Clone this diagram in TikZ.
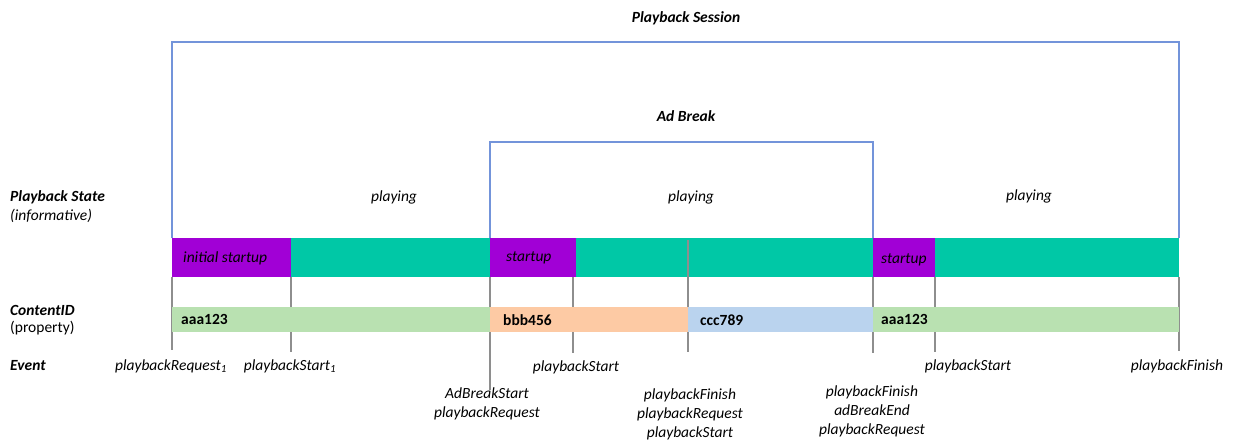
\documentclass[tikz,border=0pt]{standalone}
\usepackage{fontspec}
\setmainfont{Carlito}
\definecolor{brk}{HTML}{7394DA}
\definecolor{tick}{HTML}{8E8E8E}
\definecolor{teal}{HTML}{00C8A6}
\definecolor{purp}{HTML}{A100D6}
\definecolor{cgreen}{HTML}{B9E1B1}
\definecolor{corange}{HTML}{FDCAA4}
\definecolor{cblue}{HTML}{BAD3EE}
\begin{document}
\begin{tikzpicture}[x=1pt,y=-1pt,
  txt/.style={font=\fontsize{15.5}{18}\selectfont\itshape, inner sep=0pt},
  hdr/.style={font=\fontsize{15.5}{18}\selectfont\bfseries\itshape, inner sep=0pt},
  ev/.style={font=\fontsize{15.5}{19}\selectfont\itshape, inner sep=0pt, align=center, anchor=north},
  bartxt/.style={font=\fontsize{15.5}{18}\selectfont\itshape, inner sep=0pt, anchor=west},
  idtxt/.style={font=\fontsize{15.5}{18}\selectfont\bfseries, inner sep=0pt, anchor=west},
  bracket/.style={draw=brk, line width=1.3pt},
  tickline/.style={draw=tick, line width=1.1pt}]
\useasboundingbox (0,0) rectangle (1235,445);

% ticks (behind bars)
\coordinate (t1a) at (172,277); \coordinate (t1b) at (172,350);
\coordinate (t2a) at (291,277); \coordinate (t2b) at (291,352);
\coordinate (t3a) at (490,238); \coordinate (t3b) at (490,390);
\coordinate (t4a) at (573,277); \coordinate (t4b) at (573,353);
\coordinate (t6a) at (873,277); \coordinate (t6b) at (873,353);
\coordinate (t7a) at (935,277); \coordinate (t7b) at (935,352);
\coordinate (t8a) at (1179,277); \coordinate (t8b) at (1179,351);
\foreach \i in {1,2,3,4,6,7,8} \draw[tickline] (t\i a) -- (t\i b);

% playback state bar
\fill[teal] (172,238) rectangle (1179,277);
\fill[purp] (172,238) rectangle (291,277);
\fill[purp] (490,238) rectangle (576,277);
\fill[purp] (873,238) rectangle (935,277);
\node[bartxt] (s1) at (183,258) {initial startup};
\node[bartxt] (s2) at (506,258) {startup};
\node[bartxt] (s3) at (881,260) {startup};

% contentID bar
\fill[cgreen] (172,307) rectangle (490,332);
\fill[corange] (490,307) rectangle (688,332);
\fill[cblue] (688,307) rectangle (873,332);
\fill[cgreen] (873,307) rectangle (1179,332);
\node[idtxt] (c1) at (181,319) {aaa123};
\node[idtxt] (c2) at (503,320) {bbb456};
\node[idtxt] (c3) at (700,320) {ccc789};
\node[idtxt] (c4) at (881,319) {aaa123};

% tick over teal and bars at 688
\coordinate (t5a) at (688,240); \coordinate (t5b) at (688,352);
\draw[tickline] (t5a) -- (688,307);
\draw[tickline] (688,332) -- (t5b);

% brackets
\coordinate (ps1) at (172,238); \coordinate (ps2) at (172,42);
\coordinate (ps3) at (1179,42); \coordinate (ps4) at (1179,238);
\draw[bracket] (ps1) -- (ps2) -- (ps3) -- (ps4);
\coordinate (ab1) at (490,238); \coordinate (ab2) at (490,142);
\coordinate (ab3) at (873,142); \coordinate (ab4) at (873,238);
\draw[bracket] (ab1) -- (ab2) -- (ab3) -- (ab4);
\node[hdr] (ps) at (686,18) {Playback Session};
\node[hdr] (ab) at (686,116) {Ad Break};

% playing
\node[txt] (p1) at (394,197) {playing};
\node[txt] (p2) at (691,197) {playing};
\node[txt] (p3) at (1029,196) {playing};

% left labels
\node[hdr, anchor=west] (lps) at (10,197) {Playback State};
\node[txt, anchor=west] (lin) at (10,216) {(informative)};
\node[hdr, anchor=west] (lci) at (10,310) {ContentID};
\node[txt, anchor=west, font=\fontsize{15.5}{18}\selectfont\upshape] (lpr) at (10,328) {(property)};
\node[hdr, anchor=west] (lev) at (10,366) {Event};

% events
\node[txt] (e1) at (171,366) {playbackRequest\textsubscript{1}};
\node[txt] (e2) at (290,366) {playbackStart\textsubscript{1}};
\node[txt] (e3) at (576,367) {playbackStart};
\node[txt] (e4) at (968,366) {playbackStart};
\node[txt] (e5) at (1177,366) {playbackFinish};
\node[ev] (e6) at (487,388) {AdBreakStart\\playbackRequest};
\node[ev] (e7) at (690,389) {playbackFinish\\playbackRequest\\playbackStart};
\node[ev] (e8) at (872,386) {playbackFinish\\adBreakEnd\\playbackRequest};
\end{tikzpicture}
\end{document}
